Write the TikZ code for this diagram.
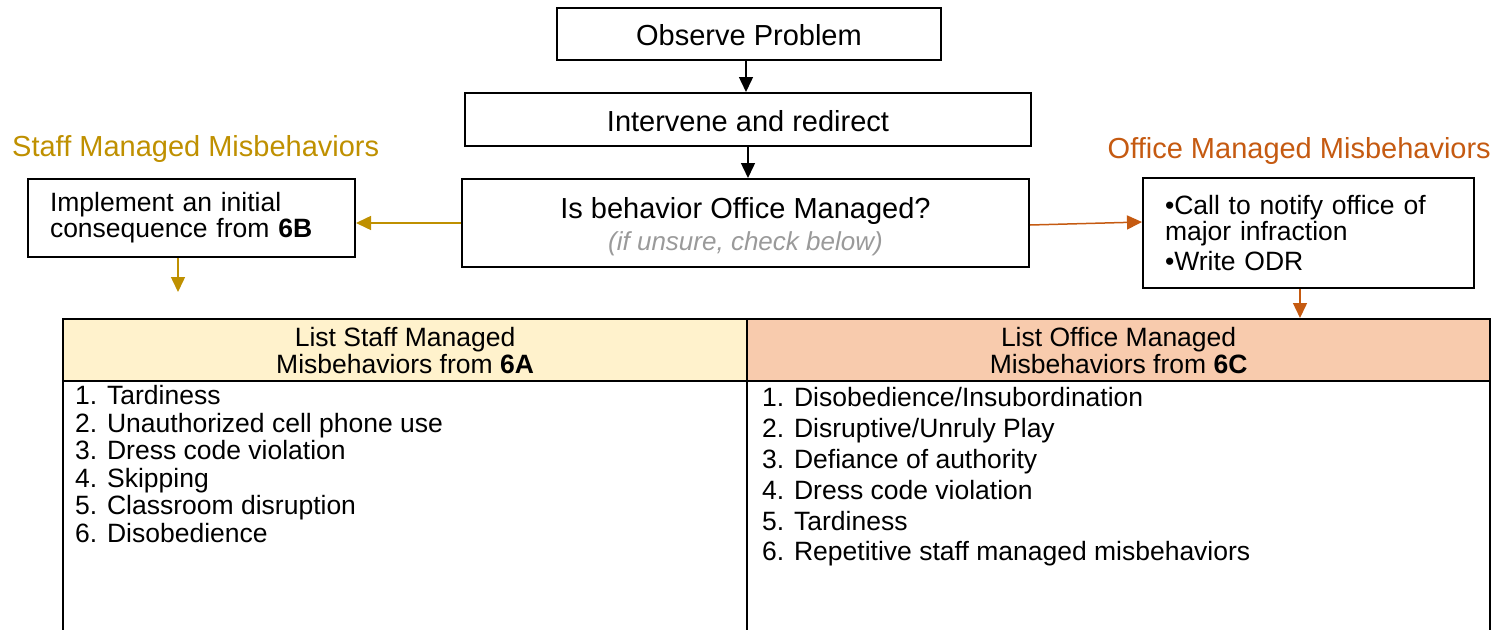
\documentclass[tikz,border=0pt]{standalone}
\usepackage{fontspec}
\setmainfont{Liberation Sans}
\usetikzlibrary{arrows.meta,calc}
\definecolor{gold}{HTML}{BF9000}
\definecolor{rust}{HTML}{C55A11}
\definecolor{hdrY}{HTML}{FFF2CC}
\definecolor{hdrO}{HTML}{F8CBAD}
\definecolor{subgray}{HTML}{9A9A9A}
\begin{document}
\begin{tikzpicture}[x=1pt,y=-1pt,
  box/.style={draw=black, line width=2pt, inner sep=0pt, font=\fontsize{29}{34}\selectfont},
  smallbox/.style={box, font=\fontsize{26.5}{26}\selectfont, inner xsep=22pt, align=left},
  arr/.style={-{Triangle[length=15pt,width=14pt]}, line width=1.5pt},
  title/.style={inner sep=0pt, font=\fontsize{29}{34}\selectfont},
  hdr/.style={draw=black, line width=2.2pt, inner sep=0pt, anchor=north west, minimum height=62pt, align=center, font=\fontsize{26.5}{27}\selectfont},
  body/.style={draw=black, line width=2.2pt, inner sep=0pt, anchor=north west, minimum height=340pt},
  item/.style={anchor=base west, inner sep=0pt, font=\fontsize{26.5}{27}\selectfont}]
\useasboundingbox (0,0) rectangle (1512,629);
\clip (0,0) rectangle (1512,629);

% flow boxes
\node[box, minimum width=384pt, minimum height=52pt] (obs) at (749,34) {\rule{0pt}{24pt}Observe Problem};
\node[box, minimum width=566pt, minimum height=53pt] (int) at (748,119.5) {\rule{0pt}{25pt}Intervene and redirect};
\node[box, minimum width=567pt, minimum height=88pt, align=center] (isb) at (745.5,223)
  {\rule{0pt}{27.5pt}Is behavior Office Managed?\\[-2pt]{\fontsize{26}{30}\selectfont\itshape\color{subgray}(if unsure, check below)}};
\node[smallbox, minimum width=327pt, minimum height=78pt, text width=283pt] (staff) at (191.5,218)
  {Implement an initial\\consequence from \textbf{6B}};
\node[smallbox, minimum width=331pt, minimum height=110pt, text width=287pt] (office) at (1308.5,233)
  {•Call to notify office of\\major infraction\\[4pt]•Write ODR};

% titles
\node[title, anchor=west, text=gold] (stitle) at (12,149) {Staff Managed Misbehaviors};
\node[title, anchor=east, text=rust] (otitle) at (1491,151) {Office Managed Misbehaviors};

% table
\node[body, minimum width=684pt] (bl) at (62,380) {};
\node[body, minimum width=743pt] (br) at (746,380) {};
\node[hdr, fill=hdrY, minimum width=684pt] (hl) at (62,318) {List Staff Managed\\Misbehaviors from \textbf{6A}};
\node[hdr, fill=hdrO, minimum width=743pt] (hr) at (746,318) {List Office Managed\\Misbehaviors from \textbf{6C}};

\node[item] (l1) at (75,404.5) {1. Tardiness};
\node[item] (l2) at (75,432) {2. Unauthorized cell phone use};
\node[item] (l3) at (75,459.5) {3. Dress code violation};
\node[item] (l4) at (75,487) {4. Skipping};
\node[item] (l5) at (75,514.5) {5. Classroom disruption};
\node[item] (l6) at (75,542) {6. Disobedience};

\node[item] (r1) at (762,406.5) {1. Disobedience/Insubordination};
\node[item] (r2) at (762,437.5) {2. Disruptive/Unruly Play};
\node[item] (r3) at (762,468.5) {3. Defiance of authority};
\node[item] (r4) at (762,499) {4. Dress code violation};
\node[item] (r5) at (762,530) {5. Tardiness};
\node[item] (r6) at (762,560.5) {6. Repetitive staff managed misbehaviors};

% connectors
\coordinate (c1) at (746,0);
\draw[arr] (obs.south -| c1) -- (int.north -| c1);
\draw[arr] (int.south) -- (int.south |- isb.north);
\draw[arr, gold] (isb.west) -- (isb.west -| staff.east);
\draw[arr, rust] ([yshift=-2pt]isb.east) -- ([yshift=11pt]office.west);
\coordinate (sfree) at (178,292);
\draw[arr, gold] (staff.south -| sfree) -- (sfree);
\coordinate (odown) at (1300,0);
\draw[arr, rust] (office.south -| odown) -- (hr.north -| odown);
\end{tikzpicture}
\end{document}
